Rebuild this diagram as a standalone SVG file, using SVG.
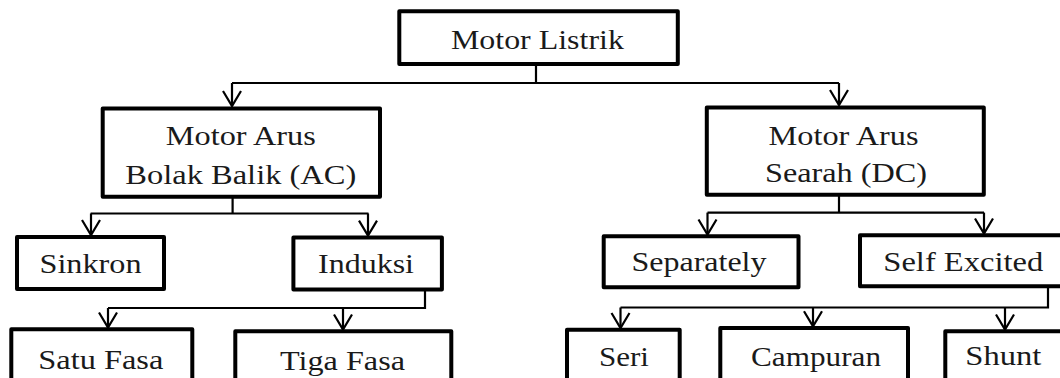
<svg xmlns="http://www.w3.org/2000/svg" width="1060" height="378" viewBox="0 0 1060 378">
<style>
.box{fill:#fff;stroke:#000;stroke-width:4;stroke-linejoin:round}
.lbl{font-family:"Liberation Serif","Times New Roman",serif;font-size:28px;fill:#1a1a1a;text-anchor:middle}
.con{fill:none;stroke:#000;stroke-width:2.2}
</style>
<defs>
<marker id="arr" markerUnits="userSpaceOnUse" markerWidth="20" markerHeight="22" viewBox="-17 -11 19 22" refX="0" refY="0" orient="auto" overflow="visible">
<path d="M-15,-9 L0,0 L-15,9" fill="none" stroke="#000" stroke-width="2.2" stroke-linejoin="miter"/>
</marker>
</defs>
<rect width="1060" height="378" fill="#fff"/>
<g id="connectors">
<path class="con" d="M536,65 V83 M232,83 H839"/>
<path class="con" d="M232,83 V106" marker-end="url(#arr)"/>
<path class="con" d="M839,83 V105" marker-end="url(#arr)"/>
<path class="con" d="M232.6,197 V213.5 M90.6,213.5 H368.5"/>
<path class="con" d="M91,213.5 V235" marker-end="url(#arr)"/>
<path class="con" d="M368,213.5 V235.6" marker-end="url(#arr)"/>
<path class="con" d="M425,290 V308 H108"/>
<path class="con" d="M108,308 V327.5" marker-end="url(#arr)"/>
<path class="con" d="M343,308 V329.5" marker-end="url(#arr)"/>
<path class="con" d="M839,195 V212.6 M707.5,212.6 H984"/>
<path class="con" d="M707.5,212.6 V234.5" marker-end="url(#arr)"/>
<path class="con" d="M984,212.6 V233.5" marker-end="url(#arr)"/>
<path class="con" d="M1048,287 V307.5 H620.5"/>
<path class="con" d="M620.5,307.5 V328" marker-end="url(#arr)"/>
<path class="con" d="M813,307.5 V326.3" marker-end="url(#arr)"/>
<path class="con" d="M1005,307.5 V329.5" marker-end="url(#arr)"/>
</g>
<g id="n-motor-listrik">
<rect class="box" x="399.3" y="11.3" width="278.5" height="52.7"/>
<text class="lbl" x="537.4" y="48.5" textLength="173" lengthAdjust="spacingAndGlyphs">Motor Listrik</text>
</g>
<g id="n-ac">
<rect class="box" x="102.7" y="108.5" width="277.3" height="88.3"/>
<text class="lbl" x="240.8" y="145" textLength="150" lengthAdjust="spacingAndGlyphs">Motor Arus</text>
<text class="lbl" x="240.8" y="184" textLength="231" lengthAdjust="spacingAndGlyphs">Bolak Balik  (AC)</text>
</g>
<g id="n-dc">
<rect class="box" x="706.8" y="107.5" width="277" height="87.3"/>
<text class="lbl" x="843.5" y="145" textLength="150" lengthAdjust="spacingAndGlyphs">Motor Arus</text>
<text class="lbl" x="846" y="182" textLength="162" lengthAdjust="spacingAndGlyphs">Searah (DC)</text>
</g>
<g id="n-sinkron">
<rect class="box" x="17" y="237" width="147" height="52"/>
<text class="lbl" x="90.5" y="273" textLength="102" lengthAdjust="spacingAndGlyphs">Sinkron</text>
</g>
<g id="n-induksi">
<rect class="box" x="293.4" y="237.6" width="148.5" height="51.8"/>
<text class="lbl" x="366" y="273" textLength="96" lengthAdjust="spacingAndGlyphs">Induksi</text>
</g>
<g id="n-satu-fasa">
<rect class="box" x="11.3" y="329.3" width="181" height="60"/>
<text class="lbl" x="100.8" y="369" textLength="125" lengthAdjust="spacingAndGlyphs">Satu Fasa</text>
</g>
<g id="n-tiga-fasa">
<rect class="box" x="235.3" y="331.3" width="216" height="60"/>
<text class="lbl" x="342.5" y="370" textLength="125" lengthAdjust="spacingAndGlyphs">Tiga  Fasa</text>
</g>
<g id="n-separately">
<rect class="box" x="603.7" y="236.3" width="194.8" height="51"/>
<text class="lbl" x="699" y="271" textLength="135" lengthAdjust="spacingAndGlyphs">Separately</text>
</g>
<g id="n-self-excited">
<rect class="box" x="860" y="235.3" width="220" height="51"/>
<text class="lbl" x="963.3" y="271" textLength="160" lengthAdjust="spacingAndGlyphs">Self Excited</text>
</g>
<g id="n-seri">
<rect class="box" x="567" y="329.7" width="112.7" height="60"/>
<text class="lbl" x="624" y="366" textLength="50" lengthAdjust="spacingAndGlyphs">Seri</text>
</g>
<g id="n-campuran">
<rect class="box" x="720.3" y="328" width="187.7" height="60"/>
<text class="lbl" x="816" y="366" textLength="130" lengthAdjust="spacingAndGlyphs">Campuran</text>
</g>
<g id="n-shunt">
<rect class="box" x="945.3" y="331.3" width="200" height="60"/>
<text class="lbl" x="1003.3" y="365" textLength="76" lengthAdjust="spacingAndGlyphs">Shunt</text>
</g>
</svg>
